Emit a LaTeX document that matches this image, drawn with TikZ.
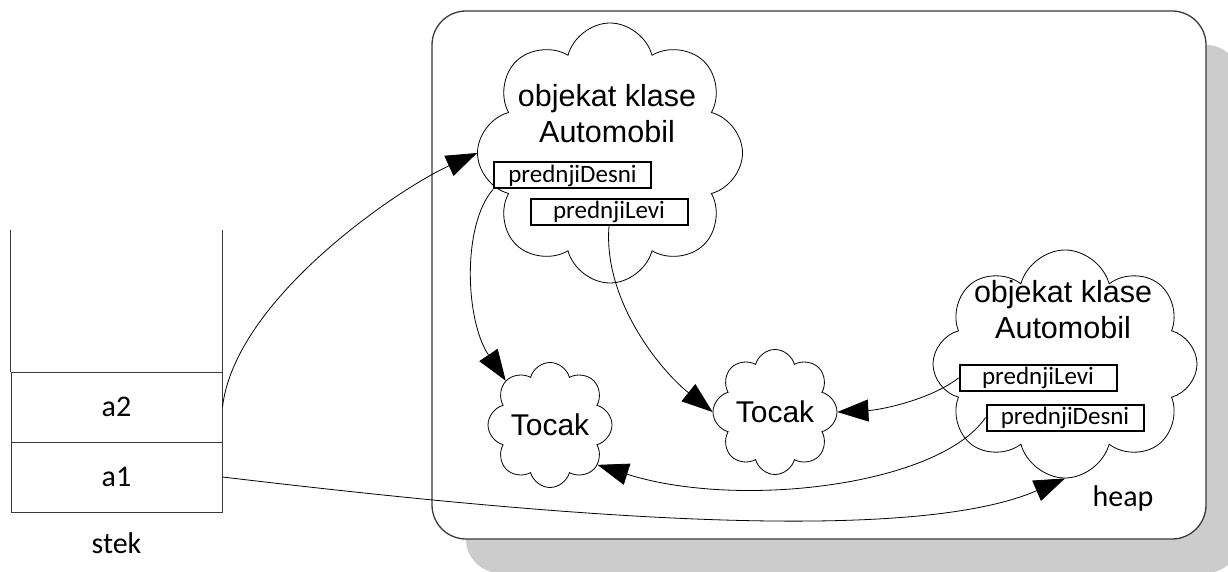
\documentclass[tikz,border=0pt]{standalone}
\usepackage{fontspec}
\setmainfont{Carlito}
\newfontfamily\arialfont{Liberation Sans}
\usetikzlibrary{arrows.meta,shapes.symbols,shadows}
\definecolor{heapgray}{HTML}{CCCCCC}
\definecolor{linegray}{HTML}{3A3A3A}
\tikzset{
  cloudnode/.style={cloud,cloud puffs=8,cloud puff arc=150,cloud ignores aspect,draw,fill=white,line width=0.8pt,inner sep=0pt},
  tocak/.style={cloudnode,cloud puffs=8,minimum width=124pt,minimum height=125pt,font=\arialfont\fontsize{30}{36}\selectfont},
  objtext/.style={align=center,inner sep=0pt,font=\arialfont\fontsize{30.5}{36}\selectfont},
  field/.style={draw,line width=2pt,fill=white,minimum width=157pt,minimum height=26pt,inner sep=0pt,font=\fontsize{25}{30}\selectfont},
  cell/.style={draw=linegray,line width=1pt,minimum width=211pt,minimum height=70pt,inner sep=0pt,font=\fontsize{30}{36}\selectfont},
  lbl/.style={inner sep=0pt,font=\fontsize{30}{36}\selectfont},
  ar/.style={-{Triangle[length=31pt,width=22pt]},line width=0.8pt},
}

\begin{document}
\begin{tikzpicture}[x=1pt,y=-1pt]
  \useasboundingbox (0,0) rectangle (1228,572);
  \node[draw=linegray,line width=1.3pt,rounded corners=34pt,fill=white,minimum width=774pt,minimum height=528pt,inner sep=0pt,
        drop shadow={shadow xshift=34pt,shadow yshift=-34pt,fill=heapgray,opacity=1}] (heap) at (819,275) {};
  \node[lbl] (heaplbl) at (1123,498) {heap};

  \node[cell] (a2) at (116.5,407) {a2};
  \node[cell] (a1) at (116.5,477) {a1};
  \draw[draw=linegray,line width=1pt] (a2.north west) -- ++(0,-142);
  \draw[draw=linegray,line width=1pt] (a2.north east) -- ++(0,-142);
  \node[lbl] (stek) at (116.5,543) {stek};

  \node[cloudnode,minimum width=265pt,minimum height=260pt] (autoA) at (610,153) {};
  \node[objtext] (autoAtxt) at (607,114) {objekat klase\\Automobil};
  \node[cloudnode,minimum width=264pt,minimum height=228pt] (autoB) at (1065,364) {};
  \node[objtext] (autoBtxt) at (1063,310) {objekat klase\\Automobil};
  \node[tocak] (tocL) at (550,425) {Tocak};
  \node[tocak] (tocR) at (775,412) {Tocak};

  \foreach \n/\x/\y/\t in {pdA/572.5/175.5/prednjiDesni,plA/609/212/prednjiLevi,plB/1038/378/prednjiLevi,pdB/1065/417.5/prednjiDesni}{
    \node[field] (\n) at (\x,\y) {\t};}

  \draw[ar] (a2.east) .. controls (235,300) and (396,190) .. (autoA.west);
  \draw[ar] (a1.east) .. controls (500,510) and (900,550) .. (autoB.south);
  \draw[ar] (pdA.south west) .. controls (462,225) and (465,320) .. (tocL.135);
  \draw[ar] (plA.south) .. controls (603,300) and (660,370) .. (tocR.west);
  \draw[ar] (plB.west) .. controls (930,400) and (880,410) .. (tocR.east);
  \draw[ar] (pdB.west) .. controls (940,485) and (740,510) .. (tocL.-40);
\end{tikzpicture}
\end{document}
